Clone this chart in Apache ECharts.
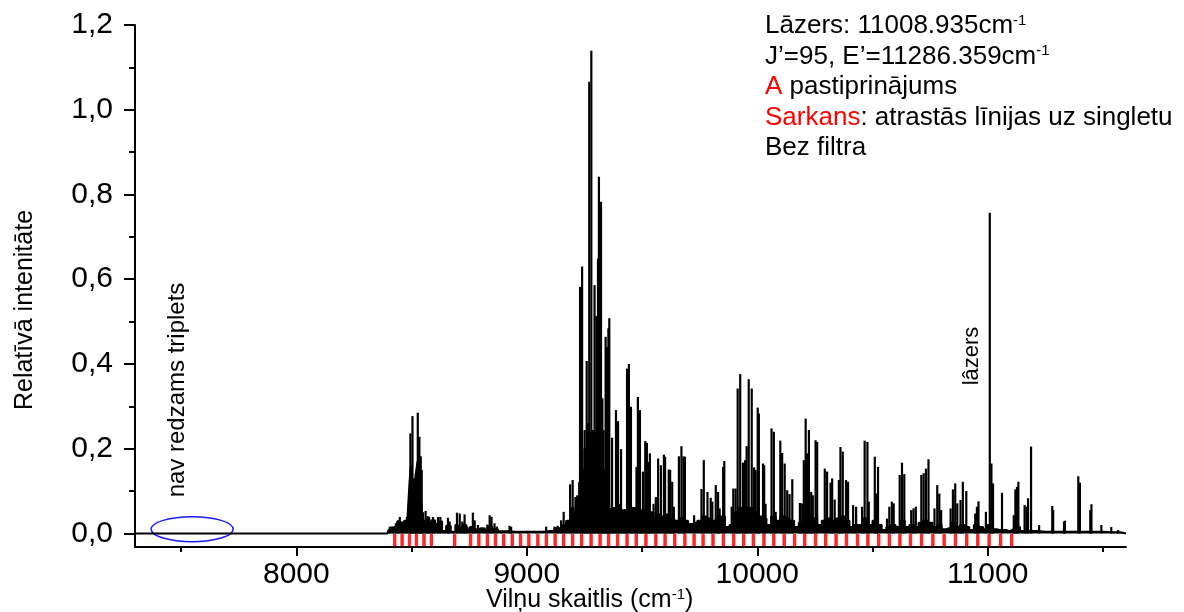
<!DOCTYPE html>
<html><head><meta charset="utf-8">
<script src="https://cdn.jsdelivr.net/npm/echarts@6/dist/echarts.min.js"></script>
<style>html,body{margin:0;padding:0;background:#fff}#c{width:1184px;height:612px}</style>
</head><body><div id="c"></div>
<script>
// ---- data ----
const xTickLabels = [8000, 9000, 10000, 11000];
const xMinorTicks = [7500, 8500, 9500, 10500, 11500];
const yTickLabels = [0, 0.2, 0.4, 0.6, 0.8, 1.0, 1.2];
const yMinorTicks = [0.1, 0.3, 0.5, 0.7, 0.9, 1.1];

// spectral lines [wavenumber, relative intensity]
const spectrumPeaks = [
 [8406,0.016],[8420,0.014],[8432,0.024],[8442,0.031],[8449,0.039],[8459,0.028],[8471,0.029],[8480,0.039],
 [8489,0.07],[8495,0.236],[8500,0.157],[8504,0.277],[8510,0.13],[8515,0.05],[8521,0.06],[8527,0.285],
 [8534,0.228],[8540,0.182],[8544,0.15],[8550,0.05],[8561,0.053],[8569,0.041],[8576,0.039],[8586,0.033],
 [8593,0.039],[8600,0.033],[8615,0.039],[8625,0.039],[8644,0.008],[8658,0.037],[8665,0.028],[8680,0.004],
 [8697,0.049],[8709,0.047],[8720,0.028],[8730,0.045],[8740,0.016],[8752,0.016],[8766,0.049],[8774,0.031],
 [8788,0.02],[8795,0.012],[8817,0.014],[8829,0.021],[8839,0.043],[8847,0.039],[8860,0.024],[8870,0.016],
 [8889,0.006],[8925,0.018],[8932,0.016],[8968,0.005],[9004,0.006],[9041,0.005],[9084,0.016],[9120,0.016],
 [9134,0.018],[9149,0.031],[9160,0.051],[9171,0.031],
 [9188,0.116],[9199,0.126],[9211,0.086],[9219,0.09],[9231,0.582],[9240,0.63],[9247,0.11],[9251,0.244],
 [9260,0.407],[9266,0.26],[9271,1.066],[9280,1.139],[9286,0.244],[9294,0.586],[9302,0.513],[9309,0.649],
 [9313,0.842],[9322,0.783],[9328,0.319],[9333,0.244],[9339,0.15],[9342,0.464],[9348,0.44],[9354,0.484],
 [9358,0.508],[9365,0.06],[9370,0.226],[9378,0.04],[9387,0.291],[9396,0.265],[9401,0.07],[9409,0.199],
 [9419,0.04],[9427,0.057],[9435,0.389],[9443,0.4],[9452,0.299],[9459,0.06],[9466,0.057],[9476,0.157],
 [9482,0.322],[9491,0.291],[9498,0.05],[9504,0.146],[9514,0.218],[9521,0.214],[9528,0.169],[9534,0.189],
 [9543,0.05],[9550,0.07],[9560,0.086],[9570,0.177],
 [9582,0.161],[9595,0.186],[9600,0.181],[9608,0.047],[9616,0.151],[9622,0.15],[9631,0.122],[9638,0.063],
 [9660,0.182],[9671,0.206],[9680,0.182],[9686,0.181],[9726,0.043],[9758,0.105],[9768,0.173],[9784,0.098],
 [9798,0.084],[9805,0.075],[9820,0.114],[9830,0.098],[9837,0.059],[9852,0.157],[9857,0.171],[9889,0.063],
 [9896,0.106],[9906,0.106],[9915,0.342],[9926,0.376],[9938,0.167],[9947,0.173],[9954,0.206],[9963,0.364],
 [9976,0.342],[9986,0.156],[9993,0.15],[10002,0.297],[10007,0.283],[10025,0.165],[10030,0.161],[10036,0.07],
 [10062,0.248],[10072,0.24],[10080,0.051],[10100,0.219],[10108,0.19],[10119,0.165],[10130,0.102],[10140,0.093],
 [10152,0.128],[10185,0.072],[10195,0.071],[10202,0.173],[10210,0.271],[10216,0.189],[10224,0.244],[10234,0.098],
 [10241,0.09],[10253,0.22],[10260,0.216],[10293,0.153],[10303,0.146],[10318,0.12],[10325,0.13],[10336,0.08],
 [10354,0.126],[10361,0.204],[10371,0.193],[10385,0.126],[10394,0.122],[10416,0.067],[10429,0.063],[10455,0.063],
 [10466,0.219],[10478,0.216],[10484,0.075],[10510,0.181],[10517,0.094],[10524,0.157],[10563,0.035],[10573,0.063],
 [10584,0.075],[10592,0.071],[10618,0.138],[10628,0.167],[10638,0.14],[10668,0.055],[10678,0.059],[10688,0.063],
 [10712,0.138],[10722,0.142],[10732,0.153],[10743,0.175],[10769,0.059],[10781,0.114],[10790,0.094],[10798,0.055],
 [10839,0.059],[10849,0.104],[10859,0.118],[10868,0.071],[10882,0.079],[10892,0.122],[10907,0.1],[10946,0.047],
 [10953,0.063],[10960,0.076],[10992,0.051],[11009,0.757],[11016,0.165],[11023,0.118],[11062,0.096],[11113,0.043],
 [11120,0.104],[11127,0.11],[11133,0.122],[11160,0.067],[11168,0.063],[11175,0.083],[11188,0.205],[11223,0.02],
 [11280,0.065],[11284,0.055],[11331,0.028],[11335,0.03],[11393,0.135],[11400,0.12],[11445,0.055],[11450,0.069],
 [11493,0.02],[11536,0.015],[11566,0.008]
];

// dense low-level "grass" envelope of the spectrum [wavenumber, intensity]
const spectrumFloor = [
 [7300,0],[8395,0],[8405,0.008],[8415,0.014],[8430,0.018],[8445,0.028],[8460,0.022],[8475,0.03],[8488,0.03],
 [8494,0.12],[8500,0.16],[8508,0.12],[8514,0.1],[8522,0.14],[8530,0.17],[8538,0.16],[8545,0.08],[8552,0.03],
 [8565,0.03],[8580,0.025],[8595,0.03],[8610,0.022],[8625,0.028],[8640,0.006],[8660,0.018],[8680,0.004],
 [8700,0.02],[8715,0.012],[8730,0.02],[8745,0.01],[8765,0.015],[8780,0.01],[8800,0.012],[8820,0.008],
 [8840,0.016],[8860,0.01],[8890,0.005],[8950,0.004],[9050,0.004],[9100,0.006],
 [9140,0.012],[9170,0.02],[9180,0.03],[9195,0.06],[9210,0.05],[9222,0.08],[9232,0.12],[9245,0.15],[9255,0.2],
 [9268,0.24],[9280,0.2],[9292,0.24],[9305,0.2],[9315,0.23],[9325,0.15],[9333,0.12],[9342,0.09],[9352,0.07],
 [9362,0.05],[9380,0.06],[9400,0.04],[9420,0.055],[9440,0.045],[9460,0.06],[9480,0.045],[9500,0.055],[9520,0.045],
 [9540,0.05],[9560,0.035],[9570,0.045],[9590,0.04],[9610,0.03],[9630,0.035],[9650,0.03],[9670,0.035],[9690,0.03],
 [9710,0.022],[9730,0.025],[9750,0.03],[9770,0.04],[9790,0.035],[9810,0.03],[9830,0.035],[9850,0.04],
 [9870,0.015],[9890,0.02],[9910,0.05],[9930,0.06],[9950,0.06],[9970,0.06],[9990,0.05],[10010,0.04],
 [10030,0.035],[10050,0.02],[10070,0.04],[10090,0.03],[10110,0.04],[10130,0.035],[10150,0.03],[10170,0.015],
 [10190,0.025],[10210,0.05],[10230,0.04],[10250,0.035],[10270,0.02],[10290,0.03],[10310,0.035],[10330,0.03],
 [10350,0.035],[10370,0.04],[10390,0.03],[10410,0.015],[10430,0.02],[10450,0.02],[10470,0.035],[10490,0.02],
 [10510,0.03],[10530,0.02],[10550,0.008],[10570,0.015],[10590,0.02],[10610,0.015],[10630,0.03],[10650,0.015],
 [10670,0.02],[10690,0.015],[10710,0.025],[10730,0.03],[10750,0.025],[10770,0.015],[10790,0.02],[10810,0.01],
 [10830,0.012],[10850,0.025],[10870,0.015],[10890,0.02],[10910,0.015],[10930,0.008],[10950,0.02],[10970,0.015],
 [10990,0.01],[11010,0.02],[11030,0.01],[11050,0.008],[11070,0.008],[11090,0.006],[11110,0.01],[11130,0.015],
 [11150,0.006],[11180,0.006],[11250,0.004],[11350,0.004],[11450,0.004],[11550,0.003],[11600,0]
];

// red marks: lines found on the singlet (wavenumbers)
const singletLines = [8427,8459,8491,8521,8554,8586,8687,8756,8792,8829,8864,8900,8937,8973,9009,9048,9085,9123,
 9160,9199,9238,9279,9318,9355,9394,9435,9475,9517,9560,9600,9642,9686,9726,9765,9808,9853,9898,9941,9983,
 10029,10072,10117,10162,10206,10253,10297,10342,10387,10435,10480,10527,10573,10619,10665,10713,10762,10811,
 10860,10909,10957,11006,11056,11104];

const ellipseCenter = [7548, 0.01];
const xMin = 7300, xMax = 11600, yMin = -0.032, yMax = 1.2;

// ---- chart ----
const FONT = '"Liberation Sans", Arial, sans-serif';
const chart = echarts.init(document.getElementById('c'), null, {renderer: 'canvas'});
const axisColor = '#000';
const commonAxis = {splitLine: {show: false}};

chart.setOption({
  animation: false,
  backgroundColor: '#fff',
  grid: {left: 135, right: 58, top: 25, bottom: 65, containLabel: false, outerBoundsMode: 'none'},
  xAxis: [
    Object.assign({}, commonAxis, {
      type: 'value', min: xMin, max: xMax, position: 'bottom',
      axisLine: {onZero: false, lineStyle: {color: axisColor, width: 2}},
      axisTick: {customValues: xTickLabels, length: 9, lineStyle: {color: axisColor, width: 2}},
      axisLabel: {customValues: xTickLabels, margin: 13, fontSize: 30, fontFamily: FONT, color: '#000',
        formatter: v => String(v)}
    }),
    Object.assign({}, commonAxis, {
      type: 'value', min: xMin, max: xMax, position: 'bottom',
      axisLine: {show: false, onZero: false},
      axisTick: {customValues: xMinorTicks, length: 5, lineStyle: {color: axisColor, width: 2}},
      axisLabel: {show: false}
    })
  ],
  yAxis: [
    Object.assign({}, commonAxis, {
      type: 'value', min: yMin, max: yMax, position: 'left',
      axisLine: {show: true, onZero: false, lineStyle: {color: axisColor, width: 2}},
      axisTick: {show: true, customValues: yTickLabels, length: 11, lineStyle: {color: axisColor, width: 2}},
      axisLabel: {customValues: yTickLabels, margin: 22, fontSize: 30, fontFamily: FONT, color: '#000',
        formatter: v => v.toFixed(1).replace('.', ',')}
    }),
    Object.assign({}, commonAxis, {
      type: 'value', min: yMin, max: yMax, position: 'left',
      axisLine: {show: false, onZero: false},
      axisTick: {show: true, customValues: yMinorTicks, length: 6, lineStyle: {color: axisColor, width: 2}},
      axisLabel: {show: false}
    })
  ],
  series: [
    {
      type: 'line', xAxisIndex: 0, yAxisIndex: 0, data: spectrumFloor, symbol: 'none', step: 'middle',
      lineStyle: {color: '#000', width: 2}, areaStyle: {color: '#000', opacity: 1}, z: 2, silent: true
    },
    {
      type: 'custom', xAxisIndex: 0, yAxisIndex: 0, data: spectrumPeaks, z: 3, silent: true,
      renderItem: (params, api) => {
        const x = api.value(0);
        const p0 = api.coord([x, 0]);
        const p1 = api.coord([x, api.value(1)]);
        return {type: 'line', shape: {x1: p0[0], y1: p0[1], x2: p1[0], y2: p1[1]},
          style: {stroke: '#000', lineWidth: 2.2}};
      }
    },
    {
      type: 'custom', xAxisIndex: 1, yAxisIndex: 0, data: singletLines.map(v => [v]), z: 4, silent: true,
      renderItem: (params, api) => {
        const x = api.value(0);
        const top = api.coord([x, 0]);
        const bot = api.coord([x, yMin]);
        return {type: 'rect', shape: {x: top[0] - 1.2, y: top[1] + 1, width: 2.4, height: bot[1] - top[1] - 2.2},
          style: {fill: '#ff3030', stroke: '#ff0000', lineWidth: 0.8}};
      }
    }
  ]
});

const ec = chart.convertToPixel({xAxisIndex: 0, yAxisIndex: 0}, ellipseCenter);
const legendStyle = {fontSize: 26, fontFamily: FONT, fill: '#000', verticalAlign: 'middle', align: 'left',
  rich: {r: {fill: '#ff0000', fontSize: 26, fontFamily: FONT}, s: {fontSize: 15, fontFamily: FONT, verticalAlign: 'top'}}};
const lines = [
  'Lāzers: 11008.935cm{s|-1}',
  'J’=95, E’=11286.359cm{s|-1}',
  '{r|A} pastiprinājums',
  '{r|Sarkans}: atrastās līnijas uz singletu',
  'Bez filtra'
];
const graphics = lines.map((t, i) => ({
  type: 'text', x: 765, y: 26 + 30.5 * i, silent: true,
  style: Object.assign({}, legendStyle, {text: t})
}));
graphics.push({
  type: 'ellipse', silent: true, shape: {cx: ec[0], cy: ec[1], rx: 41, ry: 12.5},
  style: {fill: 'none', stroke: '#1a1aff', lineWidth: 1.5}
});
graphics.push({type: 'text', x: 25, y: 310, rotation: Math.PI / 2, silent: true,
  style: {text: 'Relatīvā intenitāte', fontSize: 25, fontFamily: FONT, fill: '#000', align: 'center', verticalAlign: 'middle'}});
graphics.push({type: 'text', x: 177, y: 390, rotation: Math.PI / 2, silent: true,
  style: {text: 'nav redzams triplets', fontSize: 24, fontFamily: FONT, fill: '#000', align: 'center', verticalAlign: 'middle'}});
graphics.push({type: 'text', x: 972, y: 356, rotation: Math.PI / 2, silent: true,
  style: {text: 'lâzers', fontSize: 22, fontFamily: FONT, fill: '#000', align: 'center', verticalAlign: 'middle'}});
graphics.push({type: 'text', x: 486, y: 600, silent: true,
  style: {text: 'Vilņu skaitlis (cm{s|-1})', fontSize: 25, fontFamily: FONT, fill: '#000', align: 'left', verticalAlign: 'middle',
    rich: {s: {fontSize: 15, fontFamily: FONT, verticalAlign: 'top'}}}});
chart.setOption({graphic: graphics});
</script></body></html>
